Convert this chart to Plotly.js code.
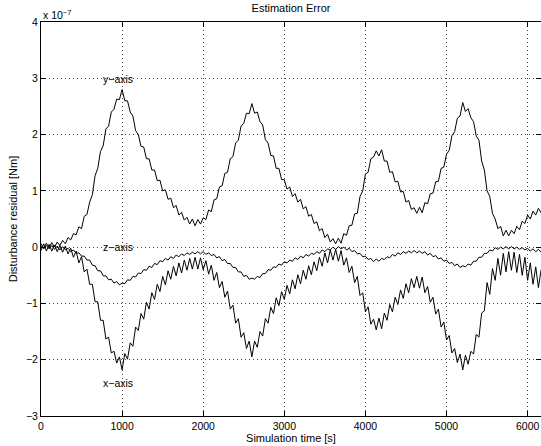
<!DOCTYPE html>
<html>
<head>
<meta charset="utf-8">
<script src="https://cdn.plot.ly/plotly-3.0.1.min.js"></script>
<style>html,body{margin:0;padding:0;background:#fff;}#chart{width:541px;height:446px;}</style>
</head>
<body>
<div id="chart"></div>
<script>
// Time sampling of the series (simulation time in s): start and step
var timeStart = 0;
var timeStep = 100 / 3;

// Disturbance residual values, in units of 1e-7 Nm, one sample per time step
var yAxisResidual = [
 0.06,-0.02,0.07,-0.01,0.08,0.00,0.09,0.03,0.12,0.06,0.17,0.13,0.24,0.22,0.36,
 0.33,0.55,0.58,0.80,0.93,1.27,1.40,1.70,1.80,2.10,2.15,2.40,2.45,2.63,2.62,
 2.80,2.60,2.60,2.40,2.33,2.07,2.00,1.79,1.78,1.57,1.57,1.37,1.37,1.18,1.19,
 1.00,1.02,0.85,0.87,0.70,0.74,0.57,0.62,0.48,0.53,0.41,0.50,0.38,0.49,0.41,
 0.52,0.49,0.66,0.63,0.84,0.86,1.07,1.09,1.31,1.33,1.57,1.61,1.85,1.90,2.15,
 2.20,2.38,2.37,2.55,2.38,2.40,2.23,2.17,1.91,1.85,1.63,1.62,1.40,1.40,1.20,
 1.20,1.03,1.07,0.90,0.95,0.80,0.85,0.68,0.72,0.55,0.58,0.42,0.45,0.29,0.33,
 0.17,0.23,0.09,0.15,0.06,0.16,0.07,0.24,0.21,0.38,0.39,0.59,0.60,0.90,1.00,
 1.30,1.33,1.57,1.60,1.71,1.62,1.73,1.53,1.53,1.33,1.34,1.16,1.17,0.98,0.99,
 0.80,0.83,0.67,0.70,0.60,0.71,0.61,0.79,0.77,0.95,0.96,1.16,1.17,1.40,1.42,
 1.65,1.72,1.98,2.05,2.29,2.33,2.57,2.41,2.46,2.30,2.23,1.97,1.90,1.53,1.37,
 1.00,0.90,0.60,0.50,0.33,0.37,0.20,0.30,0.20,0.30,0.24,0.37,0.31,0.46,0.42,
 0.57,0.50,0.64,0.57,0.69,0.61
];
var xAxisResidual = [
 -0.06,0.06,-0.07,0.05,-0.07,0.04,-0.08,0.03,-0.09,0.02,-0.12,-0.02,-0.18,-0.07,-0.28,
 -0.17,-0.44,-0.39,-0.66,-0.66,-0.97,-0.97,-1.30,-1.30,-1.63,-1.60,-1.88,-1.85,-2.06,-1.95,
 -2.18,-1.89,-1.99,-1.70,-1.76,-1.42,-1.48,-1.18,-1.28,-0.98,-1.10,-0.81,-0.93,-0.66,-0.79,
 -0.52,-0.67,-0.42,-0.57,-0.34,-0.51,-0.28,-0.46,-0.23,-0.41,-0.20,-0.39,-0.18,-0.39,-0.19,
 -0.40,-0.24,-0.48,-0.32,-0.59,-0.45,-0.72,-0.61,-0.89,-0.78,-1.10,-1.03,-1.35,-1.27,-1.60,
 -1.52,-1.80,-1.67,-1.95,-1.67,-1.78,-1.50,-1.58,-1.27,-1.35,-1.07,-1.18,-0.90,-1.04,-0.79,
 -0.93,-0.68,-0.83,-0.58,-0.74,-0.49,-0.65,-0.41,-0.57,-0.33,-0.49,-0.26,-0.42,-0.18,-0.34,
 -0.10,-0.28,-0.05,-0.23,-0.04,-0.25,-0.06,-0.32,-0.19,-0.45,-0.34,-0.63,-0.52,-0.86,-0.81,
 -1.15,-1.06,-1.37,-1.28,-1.47,-1.26,-1.45,-1.17,-1.30,-1.02,-1.15,-0.89,-1.02,-0.76,-0.91,
 -0.65,-0.81,-0.56,-0.72,-0.52,-0.73,-0.53,-0.81,-0.70,-0.98,-0.89,-1.19,-1.10,-1.42,-1.33,
 -1.65,-1.57,-1.88,-1.80,-2.05,-1.90,-2.18,-1.92,-2.08,-1.85,-1.90,-1.55,-1.60,-1.17,-1.13,
 -0.63,-0.84,-0.38,-0.59,-0.20,-0.50,-0.11,-0.44,-0.08,-0.41,-0.09,-0.45,-0.13,-0.50,-0.18,
 -0.59,-0.28,-0.66,-0.35,-0.72,-0.40
];
var zAxisResidual = [
 0.03,-0.03,0.03,-0.03,0.03,-0.04,0.02,-0.05,0.01,-0.05,-0.02,-0.08,-0.05,-0.11,-0.10,
 -0.16,-0.16,-0.23,-0.23,-0.32,-0.33,-0.42,-0.42,-0.51,-0.51,-0.58,-0.57,-0.64,-0.61,-0.67,
 -0.64,-0.65,-0.58,-0.59,-0.52,-0.53,-0.46,-0.47,-0.40,-0.41,-0.34,-0.36,-0.29,-0.31,-0.24,
 -0.26,-0.20,-0.23,-0.17,-0.20,-0.14,-0.17,-0.12,-0.15,-0.10,-0.13,-0.09,-0.12,-0.08,-0.12,
 -0.08,-0.13,-0.10,-0.15,-0.13,-0.19,-0.17,-0.24,-0.22,-0.29,-0.29,-0.36,-0.36,-0.44,-0.44,
 -0.52,-0.50,-0.57,-0.55,-0.57,-0.52,-0.54,-0.47,-0.47,-0.40,-0.41,-0.35,-0.36,-0.30,-0.32,
 -0.26,-0.28,-0.23,-0.25,-0.19,-0.22,-0.16,-0.19,-0.13,-0.16,-0.11,-0.13,-0.08,-0.11,-0.05,
 -0.08,-0.03,-0.05,0.00,-0.04,0.01,-0.03,0.00,-0.05,-0.02,-0.08,-0.06,-0.12,-0.11,-0.17,
 -0.16,-0.22,-0.20,-0.26,-0.21,-0.25,-0.20,-0.22,-0.17,-0.19,-0.13,-0.16,-0.10,-0.13,-0.08,
 -0.11,-0.07,-0.10,-0.06,-0.10,-0.07,-0.11,-0.08,-0.14,-0.11,-0.17,-0.15,-0.21,-0.19,-0.25,
 -0.23,-0.29,-0.27,-0.33,-0.30,-0.36,-0.33,-0.35,-0.30,-0.32,-0.25,-0.25,-0.18,-0.18,-0.11,
 -0.11,-0.05,-0.07,-0.01,-0.04,0.00,-0.03,0.01,-0.03,0.01,-0.03,0.00,-0.04,-0.01,-0.05,
 -0.02,-0.07,-0.03,-0.08,-0.04,-0.09
];

// Axis ticks and texts
var xTicks = [0, 1000, 2000, 3000, 4000, 5000, 6000];
var yTicks = [-3, -2, -1, 0, 1, 2, 3, 4];
var seriesLabels = ["x\u2212axis", "y\u2212axis", "z\u2212axis"];
var labelTime = [950, 950, 950];
var labelValue = [-2.41, 2.99, 0.0];
var chartTitle = "Estimation Error";
var xTitle = "Simulation time [s]";
var yTitle = "Disturbance residual [Nm]";
var yExponent = "x 10<sup>\u22127</sup>";

var FONT = "'Liberation Sans', Arial, Helvetica, sans-serif";

function lineTrace(vals, name) {
  return {
    type: "scatter", mode: "lines", name: name,
    x0: timeStart, dx: timeStep, y: vals,
    line: {color: "#000", width: 1},
    hoverinfo: "skip"
  };
}

var data = [
  lineTrace(yAxisResidual, seriesLabels[1]),
  lineTrace(xAxisResidual, seriesLabels[0]),
  lineTrace(zAxisResidual, seriesLabels[2])
];

var annotations = [];
for (var i = 0; i < seriesLabels.length; i++) {
  annotations.push({
    x: labelTime[i], y: labelValue[i], xref: "x", yref: "y",
    text: seriesLabels[i], showarrow: false,
    xanchor: "center", yanchor: "middle",
    font: {family: FONT, size: 10.5, color: "#000"}
  });
}
annotations.push({
  x: 0, y: 1.02, xref: "paper", yref: "paper",
  text: yExponent, showarrow: false, xanchor: "left", yanchor: "middle",
  font: {family: FONT, size: 10.5, color: "#000"}
});

var axisCommon = {
  showline: true, linecolor: "#000", linewidth: 1,
  mirror: "ticks", ticks: "inside", ticklen: 5, tickcolor: "#000", tickwidth: 1,
  showgrid: true, gridcolor: "#444", gridwidth: 1, griddash: "1px,3px",
  zeroline: false,
  tickfont: {family: FONT, size: 10.5, color: "#000"}
};

var layout = {
  width: 541, height: 446,
  margin: {l: 41, r: 0, t: 22, b: 30},
  paper_bgcolor: "#fff", plot_bgcolor: "#fff",
  showlegend: false,
  font: {family: FONT, size: 11, color: "#000"},
  title: {
    text: chartTitle, x: 0.5, xref: "paper", xanchor: "center",
    y: 1 - 8 / 446, yref: "container", yanchor: "middle",
    font: {family: FONT, size: 11, color: "#000"}
  },
  xaxis: Object.assign({}, axisCommon, {
    range: [0, 6165], tickvals: xTicks, ticktext: xTicks.map(String),
    title: {text: xTitle, standoff: 2, font: {family: FONT, size: 11, color: "#000"}}
  }),
  yaxis: Object.assign({}, axisCommon, {
    range: [-3, 4], tickvals: yTicks,
    title: {text: yTitle, standoff: 6, font: {family: FONT, size: 11, color: "#000"}}
  }),
  annotations: annotations
};

Plotly.newPlot("chart", data, layout, {displayModeBar: false, staticPlot: true});
</script>
</body>
</html>
